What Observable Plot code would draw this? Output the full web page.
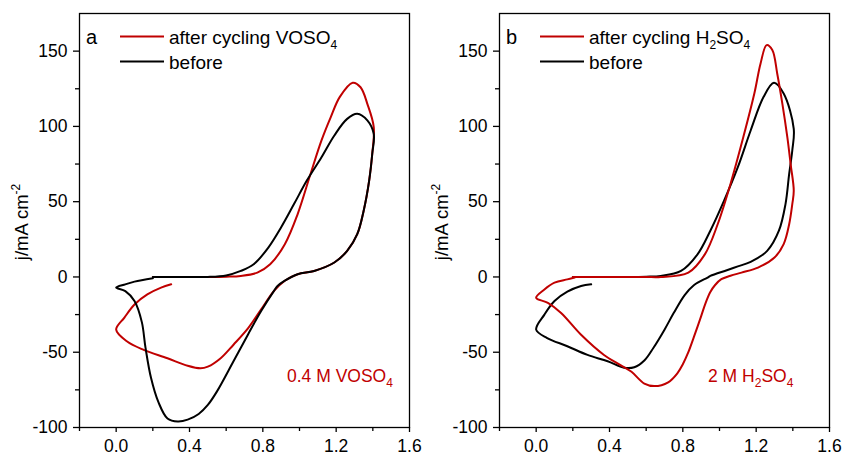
<!DOCTYPE html>
<html>
<head>
<meta charset="utf-8">
<script src="https://cdn.jsdelivr.net/npm/d3@7"></script>
<script src="https://cdn.jsdelivr.net/npm/@observablehq/plot@0.6"></script>
<style>
  html, body { margin: 0; padding: 0; background: #fff; }
  #wrap { display: flex; width: 843px; height: 455px; }
  svg { font-family: "Liberation Sans", Arial, sans-serif; overflow: visible; }
</style>
</head>
<body>
<div id="wrap"><div id="pa"></div><div id="pb"></div></div>
<script>
// ---- Data (potential V, current density mA cm^-2) ----
const vosoBeforeV = [0.20,0.35,0.50,0.60,0.68,0.75,0.83,0.90,0.97,1.04,1.12,1.19,1.26,1.315,1.37,1.405,1.397,1.38,1.35,1.315,1.26,1.19,1.08,0.99,0.92,0.88,0.86,0.79,0.72,0.64,0.55,0.50,0.45,0.39,0.336,0.28,0.23,0.19,0.16,0.14,0.10,0.05,0.00,0.05,0.10,0.20];
const vosoBeforeJ = [0,0,0,1,4,8.4,19.5,33,48.4,64,79.5,94,105,108.4,104,95,82,64,44,28.4,17.3,9.6,4,1.8,-2.5,-6,-9.4,-22.8,-38,-56,-76,-85,-91,-94.8,-96,-94,-83,-67,-47,-30,-16,-9.4,-7,-4.9,-3.1,-0.9];

const vosoAfterV = [0.20,0.35,0.50,0.60,0.68,0.77,0.84,0.92,0.99,1.06,1.12,1.17,1.22,1.29,1.333,1.37,1.405,1.397,1.38,1.35,1.315,1.26,1.19,1.08,0.99,0.92,0.86,0.79,0.72,0.64,0.57,0.50,0.46,0.39,0.28,0.15,0.06,0.00,0.045,0.10,0.17,0.245,0.30];
const vosoAfterJ = [0,0,0,0.2,0.7,2.9,8.4,21.8,41.8,68.4,90.7,106,119.6,129,126,115,99.6,82,64,44,28.4,17.3,9.6,4,1.8,-2.5,-9.4,-21.7,-34,-45,-54,-59.6,-60.7,-59,-54,-48.4,-42.9,-35,-27,-18.3,-11.6,-7.1,-4.9];

const h2so4BeforeV = [0.20,0.35,0.50,0.60,0.68,0.79,0.88,0.95,1.025,1.10,1.17,1.24,1.297,1.35,1.405,1.397,1.38,1.36,1.324,1.26,1.17,1.10,1.04,0.95,0.935,0.86,0.81,0.75,0.70,0.64,0.59,0.535,0.48,0.39,0.28,0.17,0.06,0.00,0.045,0.10,0.17,0.245,0.30];
const h2so4BeforeJ = [0,0,0,0.2,0.7,4,15,30.7,50.7,72.9,97.3,119.5,129,121.8,98.4,84,68.4,48.4,30.7,17.3,10,7,4.5,0.7,-0.4,-5.5,-12,-24,-35,-47,-55.5,-60,-60.3,-56,-51.8,-46,-40.6,-35,-25,-16,-9.8,-6,-4.9];

const h2so4AfterV = [0.20,0.35,0.50,0.60,0.68,0.83,0.92,0.99,1.06,1.13,1.19,1.224,1.257,1.288,1.315,1.343,1.37,1.388,1.405,1.397,1.38,1.35,1.30,1.21,1.12,1.06,1.01,0.975,0.95,0.925,0.90,0.86,0.83,0.80,0.77,0.72,0.645,0.59,0.52,0.46,0.37,0.245,0.136,0.064,0.00,0.045,0.10,0.17,0.21];
const h2so4AfterJ = [0,0,0,0,0,2.9,15,35,61.8,92.9,121.8,141.8,154,150.7,135,115,92.9,75,57.3,48.4,35,21.8,12.9,6.2,2.9,0.8,-1.5,-5.5,-10,-17,-26,-40,-50,-58,-64,-70,-72.5,-70.8,-63,-58.5,-51.8,-38.4,-23.9,-17.2,-13.8,-8.3,-3.8,-1.6,-0.4];

const xTicks = [0, 0.4, 0.8, 1.2, 1.6];
const xMinor = [-0.2, 0.2, 0.6, 1.0, 1.4];
const yTicks = [-100, -50, 0, 50, 100, 150];
const yMinor = [-75, -25, 25, 75, 125];
const xDomain = [-0.2, 1.6];
const yDomain = [-100, 175];

const RED = "#c00000";
const FONT = "'Liberation Sans', Arial, sans-serif";
const toRows = (V, J) => V.map((v, i) => ({v, j: J[i]}));

function panel({width, marginRight, series}) {
  return Plot.plot({
    width, height: 455,
    marginLeft: 79, marginRight, marginTop: 13, marginBottom: 28,
    style: {fontFamily: FONT, fontSize: "17.5px", color: "black", background: "transparent", overflow: "visible"},
    x: {domain: xDomain},
    y: {domain: yDomain},
    marks: [
      Plot.axisY(yTicks, {tickSize: 6, tickPadding: 6, strokeWidth: 1.3, label: null, tickFormat: d => String(d)}),
      Plot.axisY(yMinor, {tickSize: 4, strokeWidth: 1.3, tickFormat: () => "", label: null}),
      Plot.axisX(xTicks, {tickSize: 5, tickPadding: 7, strokeWidth: 1.3, tickFormat: d3.format(".1f"), label: null}),
      Plot.axisX(xMinor, {tickSize: 4, strokeWidth: 1.3, tickFormat: () => "", label: null}),
      ...series.map(s => Plot.line(toRows(s.V, s.J), {x: "v", y: "j", stroke: s.color, strokeWidth: 2, curve: "catmull-rom"})),
      Plot.frame({stroke: "black", strokeWidth: 1.3})
    ]
  });
}

function richText(g, x, y, parts, attrs) {
  const t = g.append("text").attr("x", x).attr("y", y);
  for (const [k, v] of Object.entries(attrs || {})) t.attr(k, v);
  let shift = 0;
  for (const [str, kind] of parts) {
    const target = kind === "sub" ? 5 : kind === "sup" ? -8 : 0;
    const ts = t.append("tspan").text(str).attr("dy", target - shift);
    if (kind) ts.attr("font-size", "12px");
    shift = target;
  }
  return t;
}

function decorate(svg, letter, afterParts, noteParts, noteX) {
  const g = d3.select(svg).append("g")
    .attr("font-family", FONT).attr("text-anchor", "start").attr("fill", "black");
  // y-axis title
  richText(g, 0, 0, [["j/mA cm", null], ["-2", "sup"]], {
    "transform": "translate(28,222) rotate(-90)", "text-anchor": "middle", "font-size": "18.5px"
  });
  // panel letter
  g.append("text").attr("x", 86).attr("y", 44).attr("font-size", "20px").text(letter);
  // legend
  g.append("line").attr("x1", 120).attr("x2", 164).attr("y1", 36.5).attr("y2", 36.5).attr("stroke", RED).attr("stroke-width", 2);
  richText(g, 169, 43.5, afterParts, {"font-size": "19px"});
  g.append("line").attr("x1", 120).attr("x2", 164).attr("y1", 61.5).attr("y2", 61.5).attr("stroke", "black").attr("stroke-width", 2);
  richText(g, 169, 68.5, [["before", null]], {"font-size": "19px"});
  // annotation
  richText(g, noteX, 382, noteParts, {"font-size": "17.5px", "fill": RED});
}

const svgA = panel({width: 420, marginRight: 11, series: [
  {V: vosoAfterV, J: vosoAfterJ, color: RED},
  {V: vosoBeforeV, J: vosoBeforeJ, color: "black"}
]});
decorate(svgA, "a", [["after cycling VOSO", null], ["4", "sub"]], [["0.4 M VOSO", null], ["4", "sub"]], 287);

const svgB = panel({width: 423, marginRight: 14, series: [
  {V: h2so4BeforeV, J: h2so4BeforeJ, color: "black"},
  {V: h2so4AfterV, J: h2so4AfterJ, color: RED}
]});
decorate(svgB, "b", [["after cycling H", null], ["2", "sub"], ["SO", null], ["4", "sub"]], [["2 M H", null], ["2", "sub"], ["SO", null], ["4", "sub"]], 288);

document.getElementById("pb").appendChild(svgB);
document.getElementById("pa").appendChild(svgA);
document.getElementById("pa").style.position = "relative";
document.getElementById("pa").style.zIndex = "1";
</script>
</body>
</html>
